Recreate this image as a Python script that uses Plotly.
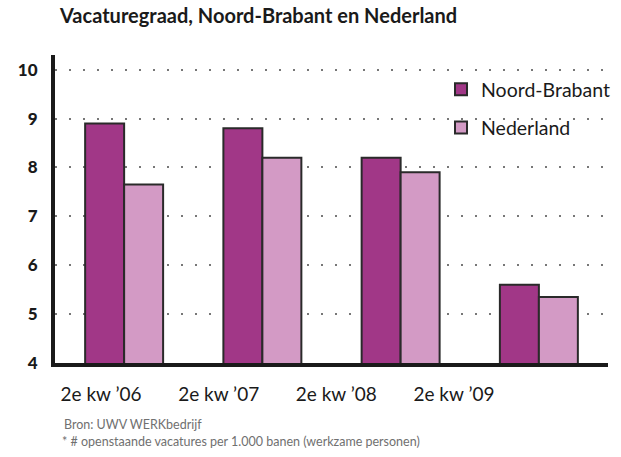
import plotly.graph_objects as go

categories = ["2e kw \u201906", "2e kw \u201907", "2e kw \u201908", "2e kw \u201909"]
noord_brabant = [8.9, 8.8, 8.2, 5.6]
nederland = [7.65, 8.2, 7.9, 5.35]
y_ticks = [4, 5, 6, 7, 8, 9, 10]

FONT = "Lato"
ML, MR, MT, MB = 55, 13, 55, 94
W, H = 621, 457
plot_w = W - ML - MR
plot_h = H - MT - MB

fig = go.Figure()
fig.add_trace(go.Bar(x=categories, y=noord_brabant, name="Noord-Brabant",
                     marker=dict(color="#A13787", line=dict(color="#2a2a2a", width=2)),
                     legendgroup="a"))
fig.add_trace(go.Bar(x=categories, y=nederland, name="Nederland",
                     marker=dict(color="#D39AC5", line=dict(color="#2a2a2a", width=2)),
                     legendgroup="b"))
# carrier trace for the (offset) category labels axis
fig.add_trace(go.Scatter(x=categories, y=nederland, xaxis="x2", mode="markers",
                         marker=dict(opacity=0), showlegend=False, hoverinfo="skip"))

fig.update_layout(
    width=W, height=H,
    margin=dict(l=ML, r=MR, t=MT, b=MB, autoexpand=False),
    paper_bgcolor="white", plot_bgcolor="white",
    barmode="group", bargap=0.436, bargroupgap=0,
    font=dict(family=FONT, color="#1a1a1a"),
    title=dict(text="<b>Vacaturegraad, Noord-Brabant en Nederland</b>",
               x=60/W, xanchor="left", y=1-16/H, yanchor="middle",
               font=dict(size=20, family=FONT, color="#1a1a1a")),
    legend=dict(x=(441 - ML) / plot_w, y=1 - (70 - MT) / plot_h, xanchor="left", yanchor="top",
                font=dict(size=19.5, family=FONT, color="#1a1a1a"),
                bgcolor="rgba(0,0,0,0)", tracegroupgap=10, traceorder="grouped"),
    xaxis=dict(showline=True, linecolor="#1a1a1a", linewidth=4, automargin=False,
               showticklabels=False, ticks="", showgrid=False),
    xaxis2=dict(type="category", overlaying="x", anchor="y", side="bottom",
                range=[-0.391, 4.309], automargin=False, showline=False,
                showgrid=False, zeroline=False, ticks="",
                tickfont=dict(size=19, family=FONT, color="#1a1a1a"),
                ticklabelstandoff=18),
    yaxis=dict(range=[4, 10.3], tickvals=y_ticks, showline=True, automargin=False,
               linecolor="#1a1a1a", linewidth=4, ticks="",
               tickfont=dict(size=17, family=FONT, color="#1a1a1a", weight=900),
               showgrid=True, gridcolor="#777777", gridwidth=1.5,
               griddash="2px,12px", zeroline=False, ticklabelstandoff=10),
)

fig.add_annotation(text="Bron: UWV WERKbedrijf", xref="paper", yref="paper",
                   x=(62 - ML) / plot_w, y=-(424 - (H - MB)) / plot_h,
                   showarrow=False, xanchor="left", yanchor="middle",
                   font=dict(size=12.5, family=FONT, color="#707070"))
fig.add_annotation(text="* # openstaande vacatures per 1.000 banen (werkzame personen)",
                   xref="paper", yref="paper",
                   x=(60 - ML) / plot_w, y=-(441 - (H - MB)) / plot_h,
                   showarrow=False, xanchor="left", yanchor="middle",
                   font=dict(size=12.5, family=FONT, color="#707070"))

fig.write_html("out.html", config={"displayModeBar": False},
               post_script="document.body.style.margin='0';")
